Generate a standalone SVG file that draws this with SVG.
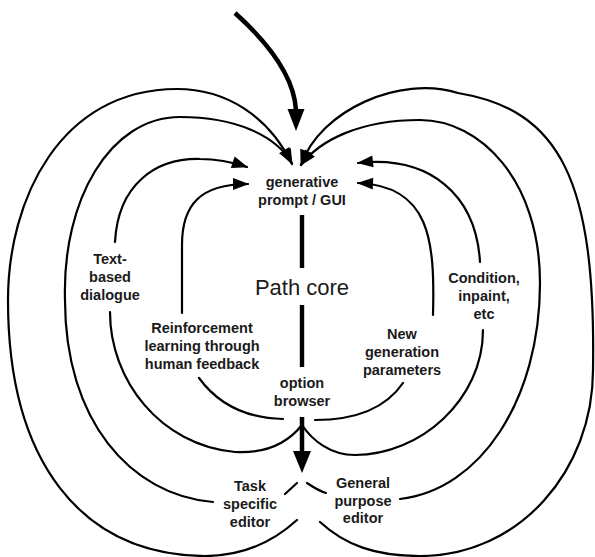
<svg xmlns="http://www.w3.org/2000/svg" width="595" height="557" viewBox="0 0 595 557">
  <defs>
    <style>
      .loop{fill:none;stroke:#000;stroke-width:2.2;stroke-linecap:round}
      .thick{fill:none;stroke:#000;stroke-width:4.5}
      .head{fill:#000}
      .lbl{font-family:"Liberation Sans",Arial,Helvetica,sans-serif;font-weight:bold;font-size:14.5px;fill:#1a1a1a;text-anchor:middle}
      .core{font-family:"Liberation Sans",Arial,Helvetica,sans-serif;font-size:22px;fill:#1a1a1a;text-anchor:middle}
    </style>
    <marker id="ah" markerUnits="userSpaceOnUse" markerWidth="17" markerHeight="12" refX="15" refY="6" orient="auto" overflow="visible">
      <path d="M0,0 L16,6 L0,12 z" fill="#000"/>
    </marker>
  </defs>

  <rect width="595" height="557" fill="#fff"/>

  <!-- connectors -->
  <g id="connectors">
    <!-- entry arrow from above -->
    <path class="thick" d="M235,13 C265,40 294,75 296,110"/>
    <polygon class="head" points="287.5,109 304.5,109 296,131"/>

    <!-- core spine -->
    <rect x="299.8" y="215" width="4.4" height="53"/>
    <rect x="299.8" y="305" width="4.4" height="62"/>

    <!-- exit arrow from option browser -->
    <path class="thick" d="M302,417 V452"/>
    <polygon class="head" points="293,451 311,451 302,473"/>

    <!-- left loops -->
    <path class="loop" marker-end="url(#ah)" d="M182,313 V245 C182,205 200,184 248,184"/>
    <path class="loop" d="M199,378 C215,400 240,418 283,419"/>

    <path class="loop" marker-end="url(#ah)" d="M115,242 C118,185 155,158 200,159 C218,159 232,162 247,167"/>
    <path class="loop" d="M110,312 C110,380 160,445 235,452 C270,454 290,440 302,425"/>

    <path class="loop" marker-end="url(#ah)" d="M213,502 C130,495 65,420 65,300 C62,200 110,117 180,117 C235,117 275,135 292,163"/>
    <path class="loop" d="M285,494 L297,483"/>

    <path class="loop" marker-end="url(#ah)" d="M297,520 C275,540 245,556 205,556 C80,555 8,460 8,300 C8,200 60,89 177,89 C225,89 268,115 292,164"/>

    <!-- right loops -->
    <path class="loop" marker-end="url(#ah)" d="M433,315 C435,240 430,186 358,183"/>
    <path class="loop" d="M403,383 C390,402 365,420 315,420"/>

    <path class="loop" marker-end="url(#ah)" d="M480,262 C476,195 430,155 358,163"/>
    <path class="loop" d="M483,330 C483,400 420,455 355,455 C330,455 312,440 302,425"/>

    <path class="loop" marker-end="url(#ah)" d="M400,499 C480,490 540,400 540,283 C540,180 480,120 420,120 C360,120 320,140 301,165"/>
    <path class="loop" d="M307,483 C313,487 319,491 326,493"/>

    <path class="loop" marker-end="url(#ah)" d="M320,522 C345,545 375,556 420,556 C520,556 593,470 593,370 C596,180 560,110 458,93 C400,75 320,110 301,165"/>
  </g>

  <!-- nodes -->
  <g id="prompt">
    <text class="lbl" x="302" y="187">generative</text>
    <text class="lbl" x="302" y="205">prompt / GUI</text>
  </g>
  <g id="core">
    <text class="core" x="302" y="295">Path core</text>
  </g>
  <g id="browser">
    <text class="lbl" x="302" y="388">option</text>
    <text class="lbl" x="302" y="406">browser</text>
  </g>
  <g id="text-dialogue">
    <text class="lbl" x="110" y="264">Text-</text>
    <text class="lbl" x="110" y="282">based</text>
    <text class="lbl" x="110" y="300">dialogue</text>
  </g>
  <g id="rlhf">
    <text class="lbl" x="202" y="333">Reinforcement</text>
    <text class="lbl" x="202" y="351">learning through</text>
    <text class="lbl" x="202" y="369">human feedback</text>
  </g>
  <g id="new-generation">
    <text class="lbl" x="402" y="339">New</text>
    <text class="lbl" x="402" y="357">generation</text>
    <text class="lbl" x="402" y="375">parameters</text>
  </g>
  <g id="condition">
    <text class="lbl" x="484" y="283">Condition,</text>
    <text class="lbl" x="484" y="301">inpaint,</text>
    <text class="lbl" x="484" y="319">etc</text>
  </g>
  <g id="task-editor">
    <text class="lbl" x="250" y="491">Task</text>
    <text class="lbl" x="250" y="509">specific</text>
    <text class="lbl" x="250" y="527">editor</text>
  </g>
  <g id="general-editor">
    <text class="lbl" x="363" y="488">General</text>
    <text class="lbl" x="363" y="506">purpose</text>
    <text class="lbl" x="363" y="523">editor</text>
  </g>
</svg>
